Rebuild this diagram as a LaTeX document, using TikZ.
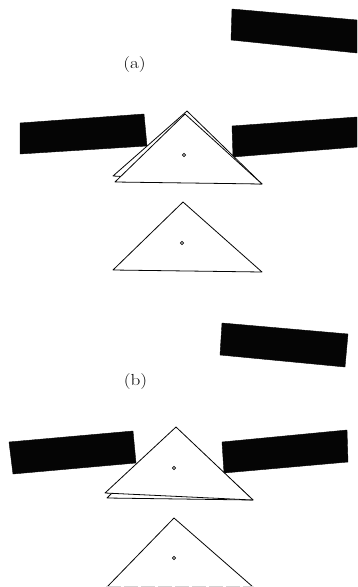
\documentclass[tikz,border=0pt]{standalone}
\usepackage{fontspec}
\usepackage{tikz}
\usetikzlibrary{calc}
\definecolor{ink}{HTML}{050505}
\tikzset{
  bar/.style={fill=ink, draw=ink, line width=0.4pt},
  plate/.style={draw=ink, line width=0.8pt, line join=round, fill=white},
  pivot/.style={draw=ink, line width=0.8pt, fill=white},
  tag/.style={font=\fontsize{16}{18}\selectfont, xscale=1.2, transform shape, text=ink, inner sep=0pt}
}
\begin{document}
\begin{tikzpicture}[x=1pt, y=-1pt]
  \useasboundingbox (0,0) rectangle (357,587);

  % ---- (a) ----
  \fill[bar] (232,9) -- (357,20) -- (357,53) -- (231,40) -- cycle;
  \node[tag] (taga) at (134.5,64.5) {(a)};
  \fill[bar] (20,123) -- (144,114) -- (147,146) -- (20,154) -- cycle;
  \fill[bar] (232,126) -- (357,117) -- (357,147) -- (233,157) -- cycle;
  % two plates, one slightly turned
  \draw[plate] (187,111) -- (113,176) -- (262,184) -- cycle;
  \draw[plate] (185,114) -- (115,182) -- (262,184) -- cycle;
  \draw[pivot] (184,155) circle (1.6);
  % single plate
  \draw[plate] (183,202) -- (113,270) -- (262,272) -- cycle;
  \draw[pivot] (182,243) circle (1.6);

  % ---- (b) ----
  \fill[bar] (222,323) -- (348,334) -- (345,367) -- (220,355) -- cycle;
  \node[tag] (tagb) at (135.5,382) {(b)};
  \fill[bar] (9,442) -- (133,431) -- (136,463) -- (13,474) -- cycle;
  \fill[bar] (222,442) -- (347,430) -- (348,462) -- (224,473) -- cycle;
  % two plates, lower one slipped
  \draw[plate] (176,428) -- (107,498) -- (253,500) -- cycle;
  \draw[plate] (176,427) -- (105,493) -- (253,500) -- cycle;
  \draw[pivot] (174,468) circle (1.6);
  % single plate, cut by the page
  \draw[plate] (107,587) -- (174,518) -- (253,587);
  \draw[gray!35, line width=0.8pt, dash pattern=on 14pt off 3pt] (107,586) -- (253,586);
  \draw[pivot] (174,558) circle (1.6);
\end{tikzpicture}
\end{document}
